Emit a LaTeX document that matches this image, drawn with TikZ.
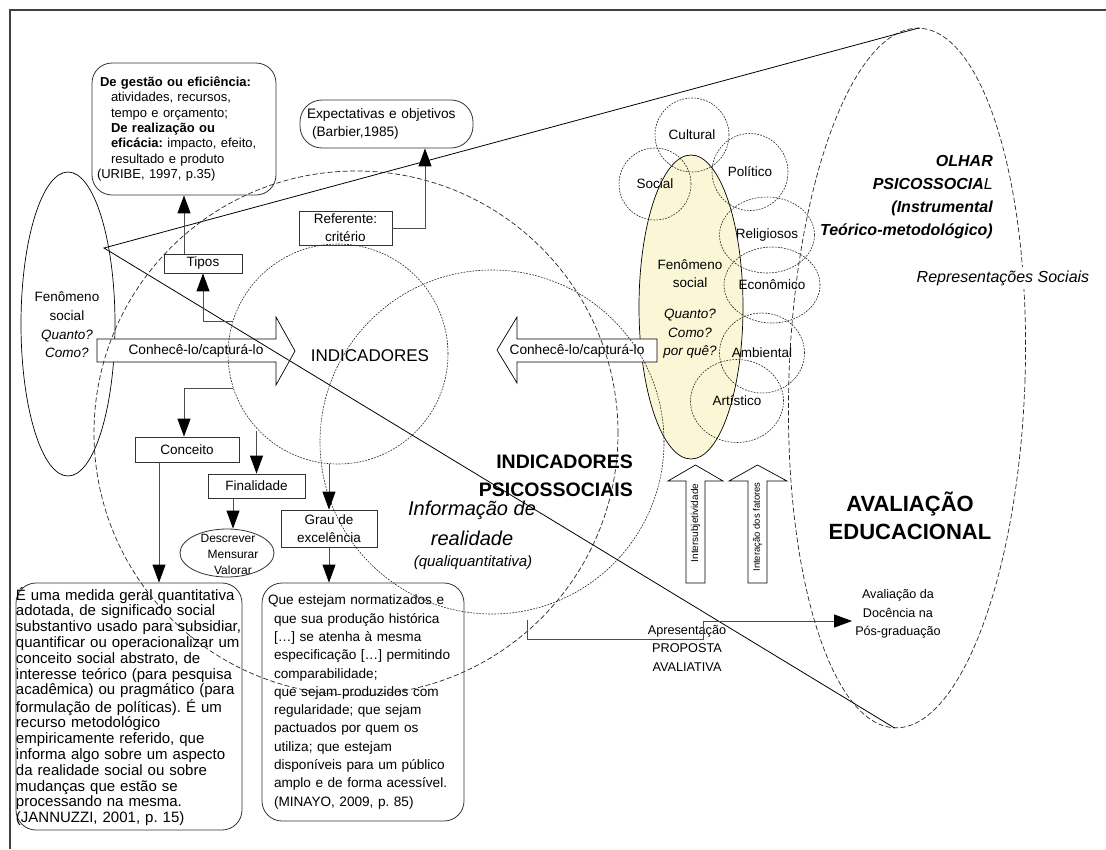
\documentclass[tikz,border=0pt]{standalone}
\usepackage{fontspec}
\setmainfont{Liberation Sans}
\usetikzlibrary{arrows.meta,shapes.geometric}
\definecolor{ylw}{RGB}{251,247,214}
\newcommand{\fz}[2]{\fontsize{#1}{#2}\selectfont}
\frenchspacing
\begin{document}
\begin{tikzpicture}[x=1pt,y=-1pt,
  box/.style={draw=black!80, line width=0.8pt, inner sep=0pt, align=center, font={\fz{13.5}{18}}},
  conn/.style={draw=black!70, line width=0.9pt, -{Triangle[length=18pt,width=13pt,color=black]}},
  dotc/.style={draw=black!85, line width=0.6pt, dash pattern=on 1.8pt off 1.2pt, inner sep=0pt},
  dashc/.style={draw=black!85, line width=0.7pt, dash pattern=on 5pt off 2.5pt, inner sep=0pt},
  blk/.style={draw=black, line width=0.7pt, line join=miter, fill=white},
  txt/.style={inner sep=0pt, align=center, font={\fz{13.5}{18}}},
  sc/.style={dotc, ellipse, font={\fz{13.5}{16}}}
]
\useasboundingbox (0,0) rectangle (1106,849);
% frame
\draw[line width=1.3pt, black!75] (10,849) -- (10,10) -- (1106,10);

% yellow phenomenon ellipse
\node[ellipse, draw=black, fill=ylw, line width=0.7pt, minimum width=104pt, minimum height=304pt, inner sep=0pt] (fen2) at (691,307) {};
% left phenomenon ellipse
\node[ellipse, draw=black, line width=0.7pt, minimum width=94pt, minimum height=304pt, inner sep=0pt] (fen1) at (68,324) {};
\node[txt, font={\fz{13.5}{18.7}}] (fen1t) at (67,325) {Fenômeno\\social\\\textit{Quanto?}\\\textit{Como?}};

% boxes
\node[box, rounded corners=20pt, text width=174pt, inner xsep=5pt, minimum height=132pt, align=left, font={\fz{13}{15.3}}] (tipo) at (184,129) {\hspace*{3pt}\textbf{De gestão ou eficiência:}\\
\hspace*{14pt}atividades, recursos,\\
\hspace*{14pt}tempo e orçamento;\\
\hspace*{14pt}\textbf{De realização ou}\\
\hspace*{14pt}\textbf{eficácia:} impacto, efeito,\\
\hspace*{14pt}resultado e produto\\
(URIBE, 1997, p.35)};
\node[box, rounded corners=22pt, text width=159pt, inner xsep=7pt, minimum height=48pt, align=left, font={\fz{13.7}{18}}] (exp) at (386.5,124) {Expectativas e objetivos\\\hspace*{5pt}(Barbier,1985)};
\node[box, minimum width=93pt, minimum height=34pt] (ref) at (345.5,228) {Referente:\\critério};
\node[box, minimum width=78pt, minimum height=19pt] (tipos) at (203,263.5) {Tipos};
\node[box, minimum width=104pt, minimum height=25pt] (conc) at (187,449.5) {Conceito};
\node[box, minimum width=97pt, minimum height=24pt] (fin) at (256.5,486) {Finalidade};
\node[box, minimum width=96pt, minimum height=37pt] (grau) at (329,528.5) {Grau de\\excelência};
\node[ellipse, draw=black!80, line width=0.8pt, minimum width=94pt, minimum height=48pt, inner sep=0pt] (desc) at (227,553) {};
\node[txt, font={\fz{12}{16}}] (desct) at (228,554) {Descrever\\\hspace*{10pt}Mensurar\\\hspace*{10pt}Valorar};
\node[box, rounded corners=20pt, text width=226pt, inner xsep=0pt, minimum height=247pt, align=left, font={\fz{15}{15.8}}] (jan) at (129,706.5) {É uma medida geral quantitativa\\
adotada, de significado social\\
substantivo usado para subsidiar,\\
quantificar ou operacionalizar um\\
conceito social abstrato, de\\
interesse teórico (para pesquisa\\
acadêmica) ou pragmático (para\\
formulação de políticas). É um\\
recurso metodológico\\
empiricamente referido, que\\
informa algo sobre um aspecto\\
da realidade social ou sobre\\
mudanças que estão se\\
processando na mesma.\\
(JANNUZZI, 2001, p. 15)};
\node[box, rounded corners=20pt, text width=190pt, inner xsep=6pt, minimum height=238pt, align=left, font={\fz{13.6}{18.3}}] (min) at (363,702) {Que estejam normatizados e\\
\hspace*{6pt}que sua produção histórica\\
\hspace*{6pt}[…] se atenha à mesma\\
\hspace*{6pt}especificação […] permitindo\\
\hspace*{6pt}comparabilidade;\\
\hspace*{6pt}que sejam produzidos com\\
\hspace*{6pt}regularidade; que sejam\\
\hspace*{6pt}pactuados por quem os\\
\hspace*{6pt}utiliza; que estejam\\
\hspace*{6pt}disponíveis para um público\\
\hspace*{6pt}amplo e de forma acessível.\\
\hspace*{6pt}(MINAYO, 2009, p. 85)};

% block arrows
\draw[blk] (97,339) -- (276,339) -- (276,317) -- (295,351) -- (276,385) -- (276,362) -- (97,362) -- cycle;
\node[txt, font={\fz{13.7}{16}}] (kr) at (196,351) {Conhecê-lo/capturá-lo};
\draw[blk] (657,339) -- (517,339) -- (517,317) -- (497,350) -- (517,383) -- (517,362) -- (657,362) -- cycle;
\node[txt, font={\fz{13.7}{16}}] (kl) at (577,351) {Conhecê-lo/capturá-lo};
\draw[blk] (686,583) -- (686,481) -- (668,481) -- (695.5,465) -- (723,481) -- (705,481) -- (705,583) -- cycle;
\node[txt, rotate=90, font={\fz{10}{12}}] (intsub) at (695.5,523) {Intersubjetividade};
\draw[blk] (748,583) -- (748,481) -- (729,481) -- (757.5,465) -- (787,481) -- (767,481) -- (767,583) -- cycle;
\node[txt, rotate=90, font={\fz{9.5}{12}}] (intfat) at (757.5,527) {Interação dos fatores};

% yellow ellipse text
\node[txt] (fen2a) at (690,274) {Fenômeno\\social};
\node[txt, font={\fz{13.5}{18.5}\itshape}] (fen2b) at (690,334) {Quanto?\\Como?\\por quê?};

% circles
\node[dashc, circle, minimum size=524pt] (bigc) at (356,433) {};
\node[dotc, circle, minimum size=220pt] (ind) at (338,354) {};
\node[txt, font={\fz{17}{20}}] (indt) at (370,356) {INDICADORES};
\node[dotc, circle, minimum size=344pt] (c2) at (492,442) {};
\node[sc, minimum width=74pt, minimum height=74pt] (cult) at (692,135) {Cultural};
\node[sc, minimum width=72pt, minimum height=72pt] (soc) at (655,184) {Social};
\node[sc, minimum width=76pt, minimum height=77pt] (pol) at (750,172) {Político};
\node[sc, minimum width=95pt, minimum height=76pt] (rel) at (767,235) {Religiosos};
\node[sc, minimum width=96pt, minimum height=76pt] (eco) at (772,285) {Econômico};
\node[sc, minimum width=85pt, minimum height=80pt] (amb) at (762,353) {Ambiental};
\node[sc, minimum width=93pt, minimum height=83pt] (art) at (737,401) {Artístico};

% big right dashed ellipse
\node[dashc, ellipse, minimum width=236pt, minimum height=700pt, rotate=-2] (bige) at (907,378) {};
\coordinate (etop) at (bige.north);
\coordinate (ebot) at (bige.south);

% big texts
\node[inner sep=0pt, align=right, anchor=east, font={\fz{16}{23}\bfseries\itshape}] (olhar) at (993,197) {OLHAR\\PSICOSSOCIA\textmd{L}\\(Instrumental\\Teórico-metodológico)};
\node[inner ysep=4pt, inner xsep=0pt, fill=white, font={\fz{16}{19}\itshape}] (rep) at (1003,278) {Representações Sociais};
\node[txt, font={\fz{22}{28}\bfseries}] (avaled) at (910,516) {AVALIAÇÃO\\EDUCACIONAL};
\node[inner sep=0pt, align=right, anchor=east, font={\fz{19.5}{28}\bfseries}] (indps) at (633,476) {INDICADORES\\PSICOSSOCIAIS};
\node[txt, font={\fz{20}{30}\itshape}] (info) at (472,523) {Informação de\\realidade};
\node[txt, font={\fz{15}{18}\itshape}] (qq) at (473,563) {(qualiquantitativa)};
\node[txt, font={\fz{12.7}{18.5}}] (apr) at (687,648) {Apresentação\\PROPOSTA\\AVALIATIVA};
\node[align=center, inner sep=3pt, font={\fz{12.6}{18.5}}] (avd) at (898,614) {Avaliação da\\Docência na\\Pós-graduação};

% cone lines
\coordinate (apex) at (104,248);
\draw[line width=0.8pt] (etop) -- (apex) -- (ebot);

% connectors
\draw[conn] (tipos.north -| tipo.south) -- (tipo.south);
\draw[conn] (ind.163) -| (tipos.south);
\draw[conn] (ind.198) -| ([xshift=-3pt]conc.north);
\draw[conn] (fin.north |- ind.224) -- (fin.north);
\draw[conn] (grau.north |- ind.265) -- (grau.north);
\draw[conn] ([xshift=-23.5pt]fin.south) -- ([xshift=-23.5pt]fin.south |- desc.north);
\draw[conn] ([xshift=-28pt]conc.south) -- ([xshift=-28pt]conc.south |- jan.north);
\draw[conn] (grau.south) -- (grau.south |- min.north);
\draw[conn] (ref.east) -| ([xshift=38.5pt]exp.south);
\coordinate (apA) at (527,620);
\draw[conn] (apA) |- (703,639) |- ([yshift=-7pt]avd.west);
\end{tikzpicture}
\end{document}
